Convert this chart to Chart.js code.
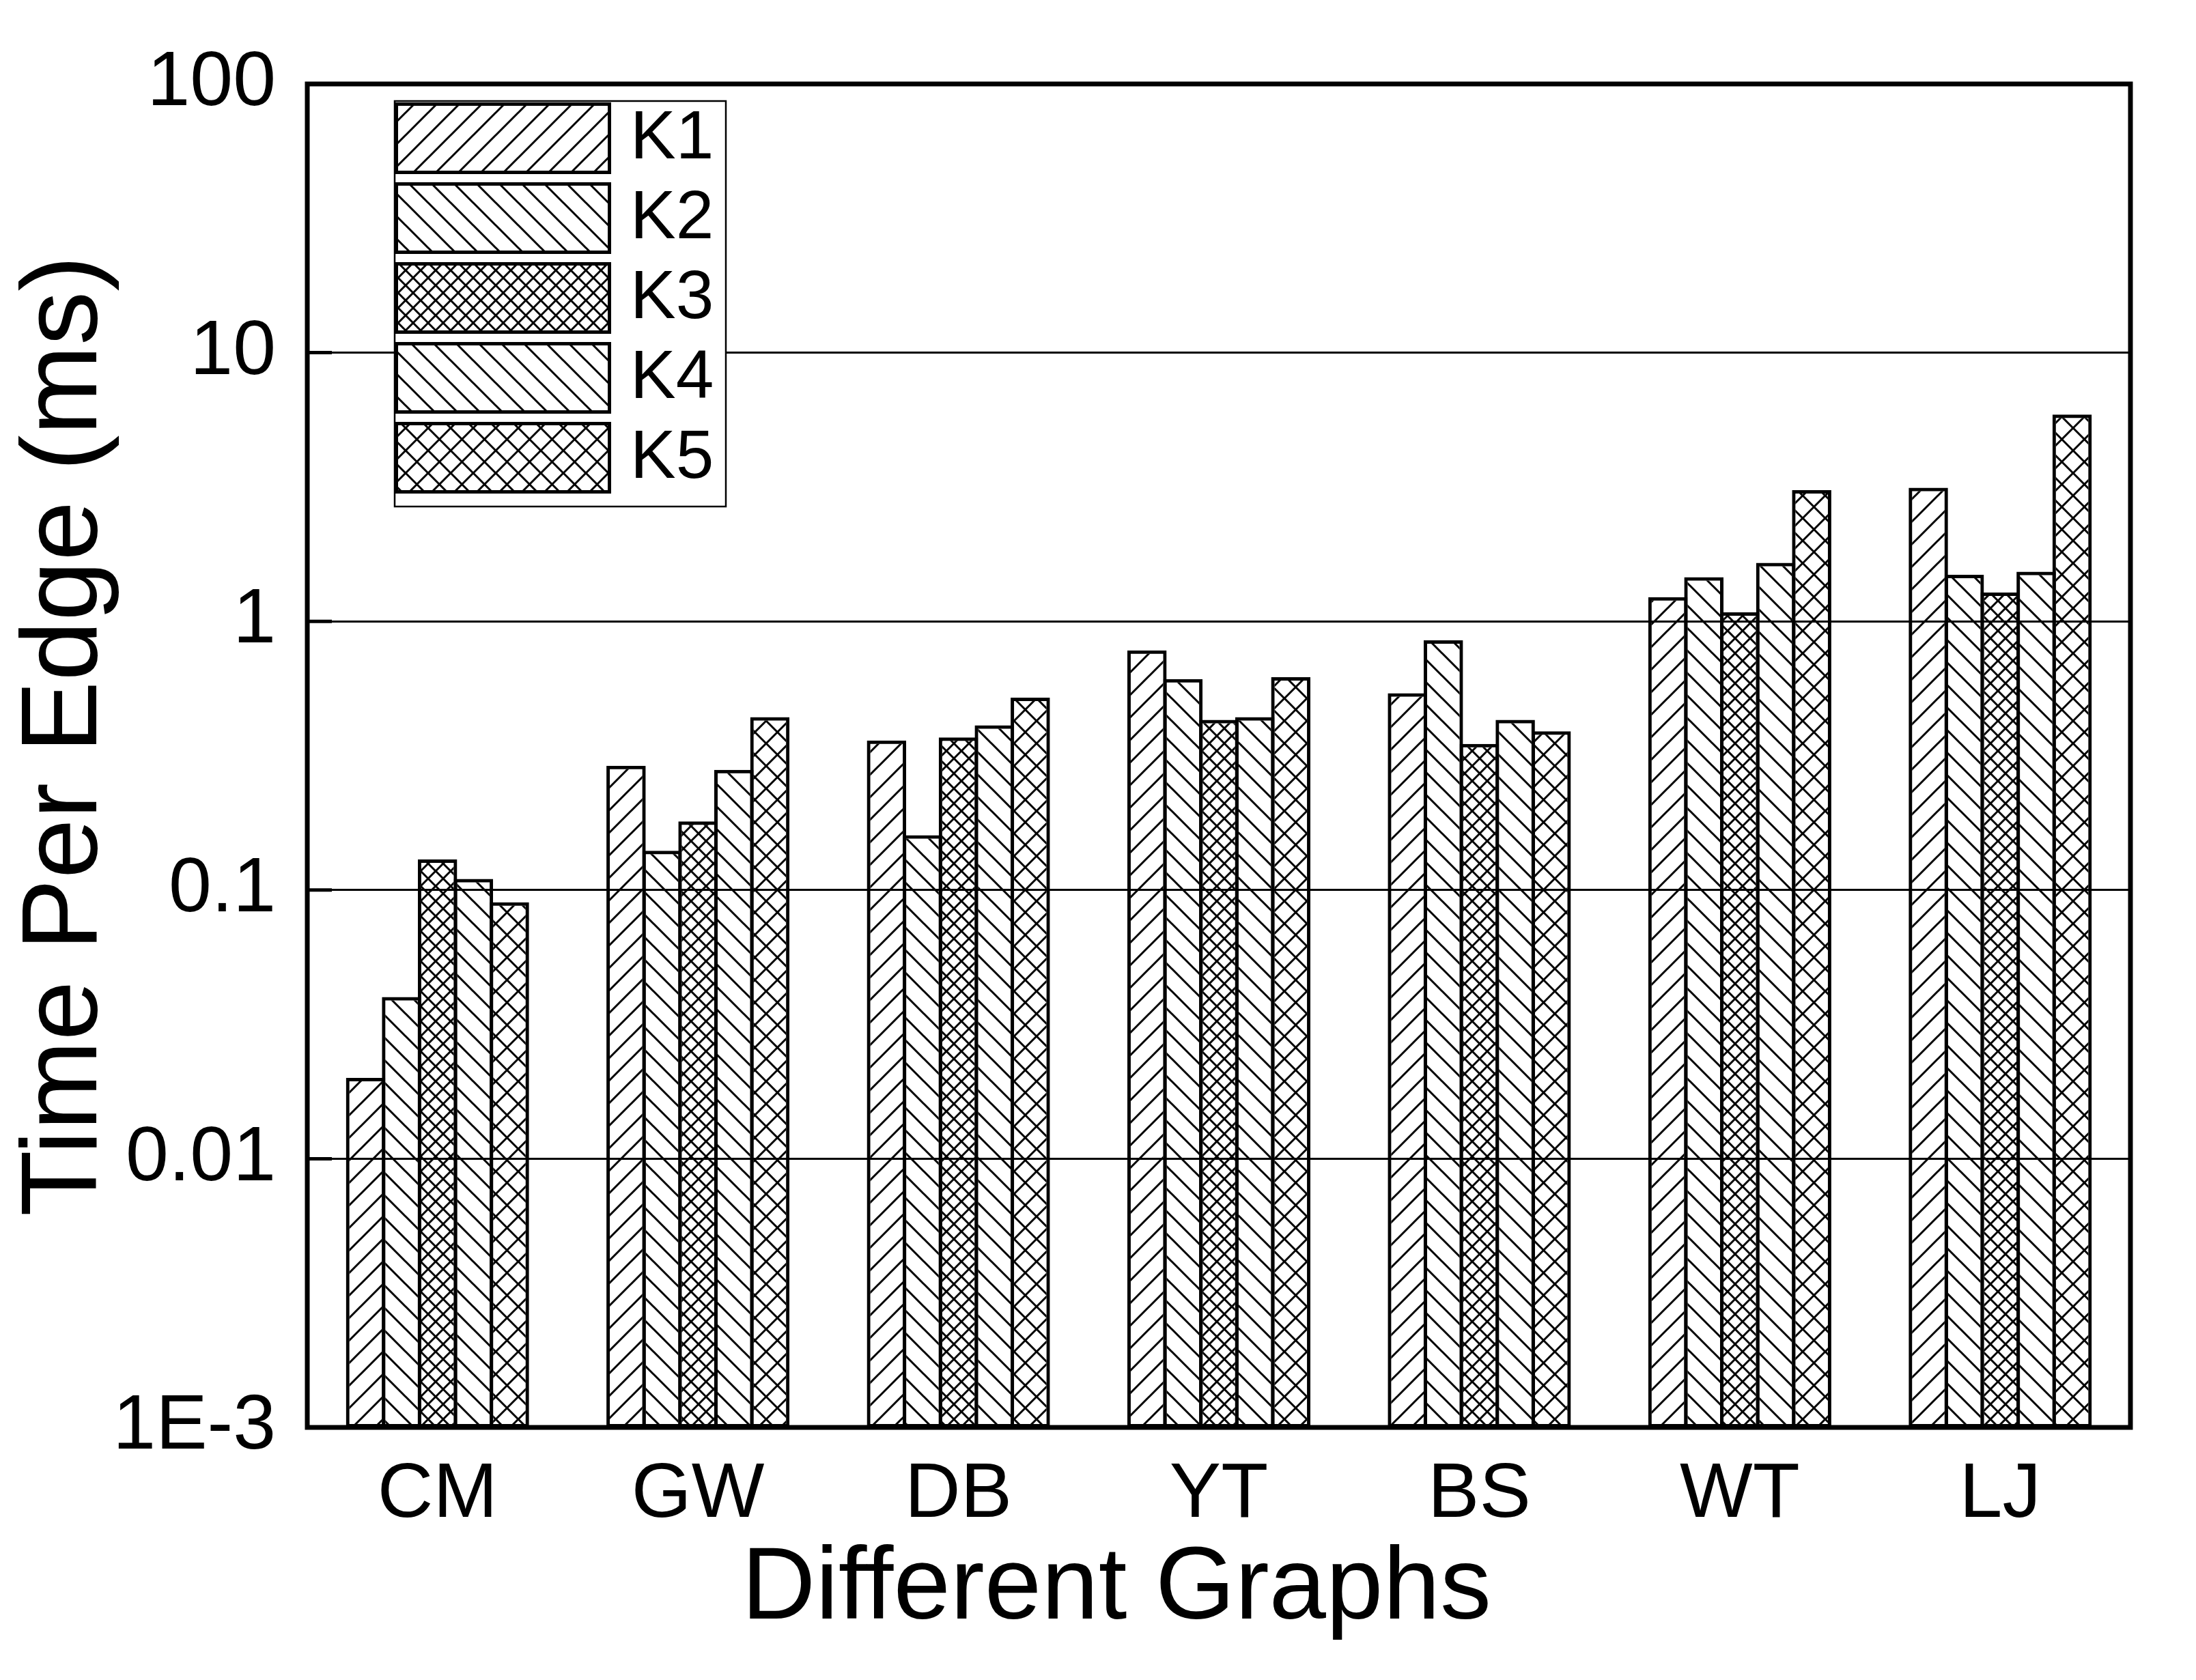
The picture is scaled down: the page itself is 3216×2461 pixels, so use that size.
<!DOCTYPE html>
<html>
<head>
<meta charset="utf-8">
<script src="https://cdn.jsdelivr.net/npm/chart.js@4.4.0/dist/chart.umd.min.js"></script>
<style>
  body { margin: 0; background: #fff; }
  canvas { display: block; }
</style>
</head>
<body>
<canvas id="timeChart" width="3216" height="2461"></canvas>
<script>
// data
const graphs = ['CM', 'GW', 'DB', 'YT', 'BS', 'WT', 'LJ'];
const seriesNames = ['K1', 'K2', 'K3', 'K4', 'K5'];
const k1 = [0.020, 0.29, 0.36, 0.78, 0.54, 1.23, 3.14];
const k2 = [0.040, 0.14, 0.16, 0.61, 0.85, 1.46, 1.49];
const k3 = [0.13, 0.18, 0.37, 0.43, 0.35, 1.08, 1.28];
const k4 = [0.11, 0.28, 0.41, 0.44, 0.43, 1.65, 1.53];
const k5 = [0.09, 0.44, 0.52, 0.62, 0.39, 3.08, 5.88];
const yTickValues = [0.001, 0.01, 0.1, 1, 10, 100];
const yTickLabels = ['1E-3', '0.01', '0.1', '1', '10', '100'];

const FONT = '"Liberation Sans", Arial, sans-serif';
const canvas = document.getElementById('timeChart');
const ctx = canvas.getContext('2d');

// hatch fills: '/' , '\' or 'x'
function hatch(kind, size) {
  const c = document.createElement('canvas');
  c.width = size;
  c.height = size;
  const g = c.getContext('2d');
  g.strokeStyle = '#000';
  g.lineWidth = 3;
  g.beginPath();
  if (kind === '/' || kind === 'x') {
    g.moveTo(-3, 3); g.lineTo(3, -3);
    g.moveTo(0, size); g.lineTo(size, 0);
    g.moveTo(size - 3, size + 3); g.lineTo(size + 3, size - 3);
  }
  if (kind === '\\' || kind === 'x') {
    g.moveTo(0, 0); g.lineTo(size, size);
    g.moveTo(size - 3, -3); g.lineTo(size + 3, 3);
    g.moveTo(-3, size - 3); g.lineTo(3, size + 3);
  }
  g.stroke();
  return ctx.createPattern(c, 'repeat');
}

const fills = [hatch('/', 33), hatch('\\', 33), hatch('x', 22), hatch('\\', 33), hatch('x', 33)];
const values = [k1, k2, k3, k4, k5];

// legend drawn inside the plot, like the original
const legendBox = {
  id: 'legendBox',
  afterDatasetsDraw(chart) {
    const c = chart.ctx;
    const a = chart.chartArea;
    const x0 = a.left + 128;
    const y0 = a.top + 25;
    c.save();
    c.fillStyle = '#fff';
    c.fillRect(x0, y0, 485, 594);
    c.strokeStyle = '#000';
    c.lineWidth = 2.5;
    c.strokeRect(x0, y0, 485, 594);
    chart.data.datasets.forEach((ds, i) => {
      const y = y0 + 2 + i * 117;
      c.fillStyle = ds.backgroundColor;
      c.fillRect(x0 + 2, y, 315, 104);
      c.lineWidth = 5;
      c.strokeRect(x0 + 2.5, y + 2.5, 312, 100);
      c.fillStyle = '#000';
      c.font = '100px ' + FONT;
      c.textAlign = 'left';
      c.textBaseline = 'middle';
      c.fillText(ds.label, x0 + 345, y + 54);
    });
    c.restore();
  }
};

// frame, inward ticks and axis titles
const frame = {
  id: 'frame',
  afterDraw(chart) {
    const c = chart.ctx;
    const a = chart.chartArea;
    const y = chart.scales.y;
    c.save();
    c.strokeStyle = '#000';
    c.lineWidth = 5;
    yTickValues.forEach(v => {
      const py = y.getPixelForValue(v);
      c.beginPath();
      c.moveTo(a.left, py);
      c.lineTo(a.left + 36, py);
      c.stroke();
    });
    c.lineWidth = 7;
    c.strokeRect(a.left, a.top, a.right - a.left, a.bottom - a.top);

    c.fillStyle = '#000';
    c.textAlign = 'center';
    c.textBaseline = 'middle';
    c.font = '150px ' + FONT;
    c.fillText('Different Graphs', 1635, 2330);
    c.translate(97, 1078);
    c.rotate(-Math.PI / 2);
    c.font = '158px ' + FONT;
    c.fillText('Time Per Edge (ms)', 0, 0);
    c.restore();
  }
};

new Chart(ctx, {
  type: 'bar',
  data: {
    labels: graphs,
    datasets: seriesNames.map((name, i) => ({
      label: name,
      data: values[i],
      backgroundColor: fills[i],
      borderColor: '#000',
      borderWidth: 5,
      borderSkipped: false,
      barPercentage: 1.094,
      categoryPercentage: 0.69,
    })),
  },
  options: {
    responsive: false,
    animation: false,
    layout: { padding: { top: 123, right: 96, left: 0, bottom: 0 } },
    plugins: {
      legend: { display: false },
      tooltip: { enabled: false },
    },
    scales: {
      x: {
        grid: { display: false, drawTicks: false },
        border: { display: false },
        ticks: { color: '#000', font: { family: FONT, size: 113 }, padding: 32, maxRotation: 0 },
        afterFit: (s) => { s.height = 370; },
      },
      y: {
        type: 'logarithmic',
        min: 0.001,
        max: 100,
        grid: { color: '#000', lineWidth: 3, drawTicks: false },
        border: { display: false },
        afterBuildTicks: (s) => { s.ticks = yTickValues.map(v => ({ value: v })); },
        ticks: {
          color: '#000',
          autoSkip: false,
          font: { family: FONT, size: 113 },
          padding: 46,
          callback: (v) => yTickLabels[yTickValues.indexOf(v)] ?? '',
        },
        afterFit: (s) => { s.width = 450; },
      },
    },
  },
  plugins: [legendBox, frame],
});
</script>
</body>
</html>
